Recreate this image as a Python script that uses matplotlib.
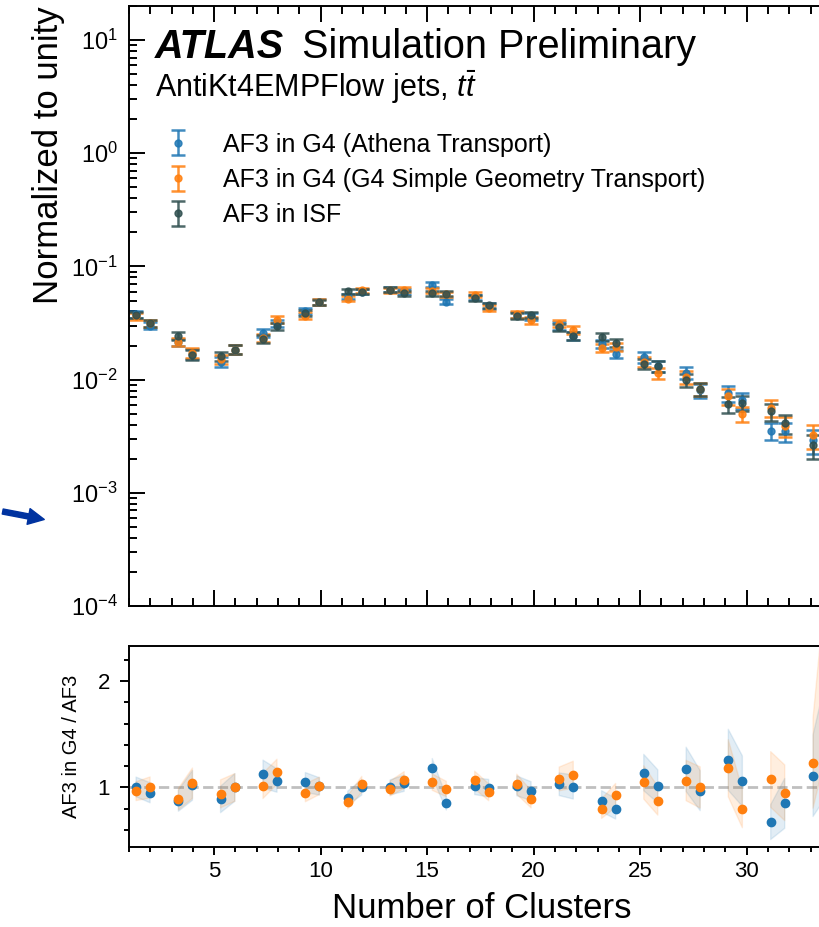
import numpy as np
import matplotlib
matplotlib.use("Agg")
import matplotlib.pyplot as plt
from matplotlib.ticker import MultipleLocator, LogLocator, NullFormatter
from matplotlib.patches import FancyArrowPatch

plt.rcParams['font.family'] = ['Liberation Sans', 'DejaVu Sans']
plt.rcParams['mathtext.fontset'] = 'custom'
plt.rcParams['mathtext.rm'] = 'Liberation Sans'
plt.rcParams['mathtext.it'] = 'Liberation Sans:italic'
plt.rcParams['mathtext.bf'] = 'Liberation Sans:bold'

# bin centres (number of clusters)
x_centers = [1.33, 1.99, 3.32, 3.98, 5.30, 5.97, 7.29, 7.95, 9.28, 9.94,
             11.27, 11.93, 13.26, 13.92, 15.24, 15.90, 17.23, 17.89, 19.21, 19.88,
             21.20, 21.86, 23.19, 23.85, 25.17, 25.83, 27.16, 27.82, 29.14, 29.80,
             31.13, 31.79, 33.12, 33.78]

# AF3 in ISF, normalised
isf_vals = [0.0375, 0.0316, 0.0244, 0.0166, 0.0161, 0.0184, 0.0229, 0.0295, 0.0388, 0.0481,
            0.0601, 0.0598, 0.0622, 0.0582, 0.0582, 0.0575, 0.0526, 0.0453, 0.0367, 0.0375,
            0.0290, 0.0244, 0.0238, 0.0211, 0.0138, 0.0131, 0.00986, 0.00828, 0.00603, 0.00622,
            0.00525, 0.00410, 0.00262, 0.0021]

# ratios to ISF
ratio_athena = [1.005, 0.95, 0.875, 1.02, 0.887, 1.0, 1.125, 1.065, 1.047, 1.01,
                0.90, 1.0, 1.0, 1.04, 1.185, 0.85, 1.012, 0.993, 1.015, 0.965,
                1.03, 1.005, 0.87, 0.80, 1.14, 1.01, 1.17, 0.97, 1.26, 1.06,
                0.674, 0.85, 1.11, 1.5]
ratio_simple = [0.965, 1.0, 0.89, 1.04, 0.94, 1.0, 1.015, 1.147, 0.95, 1.015,
                0.86, 1.03, 0.99, 1.07, 1.05, 0.985, 1.07, 0.955, 1.03, 0.89,
                1.08, 1.12, 0.80, 0.925, 1.047, 0.875, 1.065, 1.0, 1.18, 0.80,
                1.075, 0.95, 1.23, 2.2]

# relative statistical uncertainty per bin
rel_err = [0.065, 0.070, 0.080, 0.097, 0.099, 0.092, 0.083, 0.073, 0.063, 0.057,
           0.051, 0.051, 0.050, 0.052, 0.052, 0.052, 0.055, 0.059, 0.065, 0.065,
           0.073, 0.080, 0.081, 0.086, 0.106, 0.109, 0.126, 0.137, 0.161, 0.158,
           0.172, 0.195, 0.244, 0.27]

labels = ["AF3 in G4 (Athena Transport)",
          "AF3 in G4 (G4 Simple Geometry Transport)",
          "AF3 in ISF"]
colors = ["#1f77b4", "#ff7f0e", "#2f4f4f"]

x = np.array(x_centers)
isf = np.array(isf_vals)
rel = np.array(rel_err)
r_ath = np.array(ratio_athena)
r_sim = np.array(ratio_simple)

W, H = 820, 927
fig = plt.figure(figsize=(W / 100, H / 100), dpi=100)
ax_l, ax_r = 129, 835
ax = fig.add_axes([ax_l / W, 1 - 606 / H, (ax_r - ax_l) / W, 600 / H])
rax = fig.add_axes([ax_l / W, 1 - 847 / H, (ax_r - ax_l) / W, 201 / H], sharex=ax)

# main panel
series = [(isf * r_ath, colors[0], labels[0]),
          (isf * r_sim, colors[1], labels[1]),
          (isf, colors[2], labels[2])]
for vals, c, lab in series:
    ax.errorbar(x, vals, yerr=vals * rel, fmt='o', color=c, ms=5,
                elinewidth=1.8, capsize=5, capthick=1.8, alpha=0.85, label=lab)

ax.set_yscale('log')
ax.set_ylim(1e-4, 20)
ax.set_xlim(1, 34.15)
ax.yaxis.set_major_locator(LogLocator(base=10, numticks=10))
ax.yaxis.set_minor_locator(LogLocator(base=10, subs=np.arange(2, 10), numticks=20))
ax.yaxis.set_minor_formatter(NullFormatter())
ax.xaxis.set_major_locator(MultipleLocator(5))
ax.xaxis.set_minor_locator(MultipleLocator(1))
ax.tick_params(which='both', direction='in', top=True, right=True, labelbottom=False,
               width=1.4, labelsize=17, pad=8)
ax.tick_params(which='major', length=11.5)
ax.tick_params(which='minor', length=5.5)
for s in ax.spines.values():
    s.set_linewidth(1.4)
ax.set_ylabel("Normalized to unity", fontsize=25, loc='top', labelpad=4)

ax.text(0.0368, 0.9133, "ATLAS", transform=ax.transAxes, fontsize=28.5,
        fontweight='bold', fontstyle='italic', va='baseline')
ax.text(0.245, 0.9133, "Simulation Preliminary", transform=ax.transAxes,
        fontsize=28.5, va='baseline')
ax.text(0.0368, 0.8483, r"AntiKt4EMPFlow jets, $t\bar{t}$", transform=ax.transAxes,
        fontsize=22, va='baseline')

ax.legend(loc='upper left', bbox_to_anchor=(0.0517, 0.789), frameon=False,
          fontsize=18, handlelength=1.0, handletextpad=1.3, labelspacing=0.45,
          borderpad=0, borderaxespad=0)

# ratio panel
rax.axhline(1, color='gray', ls='--', lw=2, alpha=0.5, zorder=1)
gaps = np.where(np.diff(x) > 1.0)[0] + 1
xg = np.insert(x, gaps, np.nan)
for r, c in [(r_ath, colors[0]), (r_sim, colors[1])]:
    err = r * np.sqrt(2) * rel
    lo = np.insert(r - err, gaps, np.nan)
    hi = np.insert(r + err, gaps, np.nan)
    rax.fill_between(xg, lo, hi, color=c, alpha=0.13, lw=1, zorder=2)
for r, c in [(r_ath, colors[0]), (r_sim, colors[1])]:
    rax.plot(x, r, 'o', color=c, ms=6, zorder=3)

rax.set_ylim(0.44, 2.33)
rax.yaxis.set_major_locator(MultipleLocator(1))
rax.yaxis.set_minor_locator(MultipleLocator(0.2))
rax.tick_params(which='both', direction='out', width=1.4, labelsize=16)
rax.tick_params(axis='y', which='major', length=6.5, pad=7)
rax.tick_params(axis='y', which='minor', length=3.3)
rax.tick_params(axis='x', which='major', length=5.8, pad=4.5)
rax.tick_params(axis='x', which='minor', length=3.3)
for s in rax.spines.values():
    s.set_linewidth(1.4)
rax.set_ylabel("AF3 in G4 / AF3", fontsize=14.5, labelpad=12)
rax.set_xlabel("Number of Clusters", fontsize=25, labelpad=7)

# annotation arrow at the left edge
arrow = FancyArrowPatch((0 / W, 1 - 511 / H), (47 / W, 1 - 520 / H),
                        transform=fig.transFigure,
                        arrowstyle='simple,head_length=1.0,head_width=1.0,tail_width=0.32',
                        mutation_scale=11.5, color='#0033a0')
fig.patches.append(arrow)

fig.savefig("out.png", dpi=100)
